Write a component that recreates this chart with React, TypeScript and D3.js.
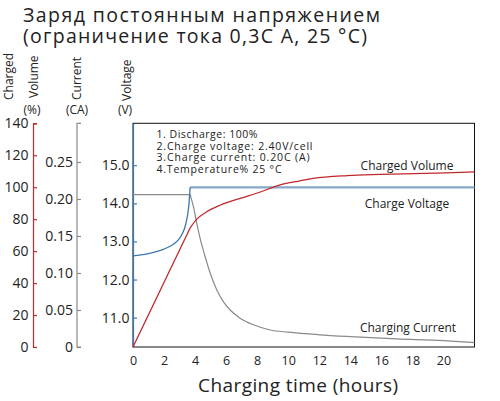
import React, { useEffect, useRef } from "react";
import * as d3 from "d3";

const titleLines = ["Заряд постоянным напряжением", "(ограничение тока 0,3C A, 25 °C)"];
const notes = ["1. Discharge: 100%", "2.Charge voltage: 2.40V/cell", "3.Charge current: 0.20C (A)", "4.Temperature% 25 °C"];

const hourTicks = [0, 2, 4, 6, 8, 10, 12, 14, 16, 18, 20];
const volumeTicks = [0, 20, 40, 60, 80, 100, 120, 140];
const currentTicks = [0, 0.05, 0.1, 0.15, 0.2, 0.25];
const voltageTicks = [11, 12, 13, 14, 15];

// Charge voltage (V)
const voltageRiseTime = [0, 0.5, 1, 1.5, 2, 2.5, 2.8, 3.0, 3.2, 3.35, 3.46, 3.55, 3.62, 3.68];
const voltageRiseValue = [12.62, 12.645, 12.68, 12.73, 12.8, 12.9, 12.99, 13.08, 13.22, 13.38, 13.57, 13.78, 14.05, 14.42];
const voltageHoldTime = [3.68, 22];
const voltageHoldValue = [14.42, 14.42];

// Charging current (CA)
const currentConstTime = [0, 3.68];
const currentConstValue = [0.206, 0.206];
const currentDecayTime = [3.68, 3.89, 4.11, 4.32, 4.65, 4.97, 5.4, 5.83, 6.26, 6.9, 7.76, 8.84, 10, 12, 14, 17, 20, 22];
const currentDecayValue = [0.206, 0.19, 0.167, 0.147, 0.122, 0.1, 0.077, 0.061, 0.05, 0.039, 0.03, 0.023, 0.02, 0.0165, 0.014, 0.011, 0.0085, 0.006];

// Charged volume (%)
const volumeLinTime = [0, 3.68];
const volumeLinValue = [0, 74.5];
const volumeTime = [3.68, 4.11, 4.75, 5.6, 6.9, 8.2, 9.48, 10.77, 11.6, 13.8, 15.9, 18.1, 20.2, 22];
const volumeValue = [74.5, 80, 84.6, 88.7, 93, 97, 101.5, 104, 105.5, 107.3, 108, 108.5, 109, 109.6];

const FONT = "'Open Sans', sans-serif";
const RED = "#c0282e";
const BLUE = "#3b78b0";
const BLUE_LIGHT = "#86a9c8";
const GRAY = "#8a8a8a";
const TEXT = "#222";

export default function App() {
  const ref = useRef<SVGSVGElement>(null);

  useEffect(() => {
    const svg = d3.select(ref.current);
    svg.selectAll("*").remove();

    const x = d3.scaleLinear().domain([0, 22]).range([133, 474.5]);
    const yVol = d3.scaleLinear().domain([0, 140]).range([347, 123.3]);
    const yCur = d3.scaleLinear().domain([0, 0.3]).range([347, 125]);
    const yVolt = d3.scaleLinear().domain([10.23, 16.1]).range([347, 123.3]);

    // title
    const titleWidths = [357, 344];
    titleLines.forEach((t, i) => {
      svg.append("text").attr("x", 23).attr("y", 22 + i * 21)
        .attr("font-family", FONT).attr("font-size", 19.5).attr("fill", TEXT)
        .attr("textLength", titleWidths[i]).attr("lengthAdjust", "spacing")
        .text(t);
    });

    // axis titles (rotated)
    const rot = (label: string, cx: number, yBottom: number) => {
      svg.append("text")
        .attr("transform", `translate(${cx},${yBottom}) rotate(-90)`)
        .attr("font-family", FONT).attr("font-size", 12).attr("fill", TEXT)
        .attr("dominant-baseline", "central")
        .text(label);
    };
    rot("Charged", 8, 100);
    rot("Volume", 33, 98);
    rot("Current", 76, 100);
    rot("Voltage", 126, 101);
    const unit = (label: string, cx: number) => {
      svg.append("text").attr("x", cx).attr("y", 114).attr("text-anchor", "middle")
        .attr("font-family", FONT).attr("font-size", 12).attr("fill", TEXT).text(label);
    };
    unit("(%)", 32);
    unit("(CA)", 77);
    unit("(V)", 125);

    // frame
    svg.append("rect").attr("x", 133).attr("y", 123.3).attr("width", 474.5 - 133).attr("height", 347 - 123.3)
      .attr("fill", "none").attr("stroke", "#111").attr("stroke-width", 1);

    const styleAxis = (g: any, color: string) => {
      g.selectAll("path").attr("stroke", color).attr("stroke-width", 1.2);
      g.selectAll("line").attr("stroke", color).attr("stroke-width", 1.2);
      g.selectAll("text").attr("fill", TEXT).attr("font-family", FONT).attr("font-size", 14);
    };

    const gVol = svg.append("g").attr("transform", "translate(33,0)")
      .call(d3.axisLeft(yVol).tickValues(volumeTicks).tickSizeInner(-4).tickSizeOuter(-4).tickPadding(4.5).tickFormat(d3.format("d")) as any);
    styleAxis(gVol, RED);

    const gCur = svg.append("g").attr("transform", "translate(77,0)")
      .call(d3.axisLeft(yCur).tickValues(currentTicks).tickSizeInner(-4).tickSizeOuter(-4).tickPadding(4)
        .tickFormat((d: any) => (d === 0 ? "0" : d3.format(".2f")(d))) as any);
    gCur.select("path").attr("d", `M4,${yCur(0)}H0V${123.3}H4`);
    styleAxis(gCur, GRAY);

    const gVolt = svg.append("g").attr("transform", "translate(133,0)")
      .call(d3.axisLeft(yVolt).tickValues(voltageTicks).tickSizeInner(-4).tickSizeOuter(0).tickPadding(3.5)
        .tickFormat(d3.format(".1f")) as any);
    styleAxis(gVolt, BLUE);

    const gX = svg.append("g").attr("transform", "translate(0,347)")
      .call(d3.axisBottom(x).tickValues(hourTicks).tickSize(0).tickPadding(9).tickFormat(d3.format("d")) as any);
    gX.select("path").remove();
    gX.selectAll("text").attr("fill", TEXT).attr("font-family", FONT).attr("font-size", 12.5);

    svg.append("text").attr("x", 298).attr("y", 392).attr("text-anchor", "middle")
      .attr("font-family", FONT).attr("font-size", 19).attr("fill", TEXT)
      .attr("textLength", 200).attr("lengthAdjust", "spacing")
      .text("Charging time (hours)");

    // lines
    const draw = (ts: number[], vs: number[], y: any, color: string, w: number, curve: any) => {
      const pts = ts.map((t, i) => [t, vs[i]] as [number, number]);
      const line = d3.line<[number, number]>().x((d) => x(d[0])).y((d) => y(d[1])).curve(curve);
      svg.append("path").attr("d", line(pts)).attr("fill", "none").attr("stroke", color).attr("stroke-width", w);
    };
    draw(currentConstTime, currentConstValue, yCur, GRAY, 1.2, d3.curveLinear);
    draw(currentDecayTime, currentDecayValue, yCur, GRAY, 1.2, d3.curveMonotoneX);
    draw(voltageHoldTime, voltageHoldValue, yVolt, BLUE_LIGHT, 2.2, d3.curveLinear);
    draw(voltageRiseTime, voltageRiseValue, yVolt, BLUE, 1.3, d3.curveMonotoneX);
    draw(volumeLinTime, volumeLinValue, yVol, RED, 1.3, d3.curveLinear);
    draw(volumeTime, volumeValue, yVol, RED, 1.3, d3.curveMonotoneX);

    // notes
    const noteWidths = [101, 156, 153, 125];
    notes.forEach((n, i) => {
      svg.append("text").attr("x", 156.5).attr("y", 138 + i * 11.7)
        .attr("font-family", FONT).attr("font-size", 10.5).attr("fill", TEXT)
        .attr("textLength", noteWidths[i]).attr("lengthAdjust", "spacing")
        .text(n);
    });

    const lab = (t: string, cx: number, y: number) => {
      svg.append("text").attr("x", cx).attr("y", y).attr("text-anchor", "middle")
        .attr("font-family", FONT).attr("font-size", 12).attr("fill", TEXT).text(t);
    };
    lab("Charged Volume", 407, 169.5);
    lab("Charge Voltage", 407, 207.5);
    lab("Charging Current", 408, 331.5);
  }, []);

  return (
    <svg ref={ref} width={500} height={401} style={{ position: "absolute", left: 0, top: 0, background: "#fff" }} />
  );
}
